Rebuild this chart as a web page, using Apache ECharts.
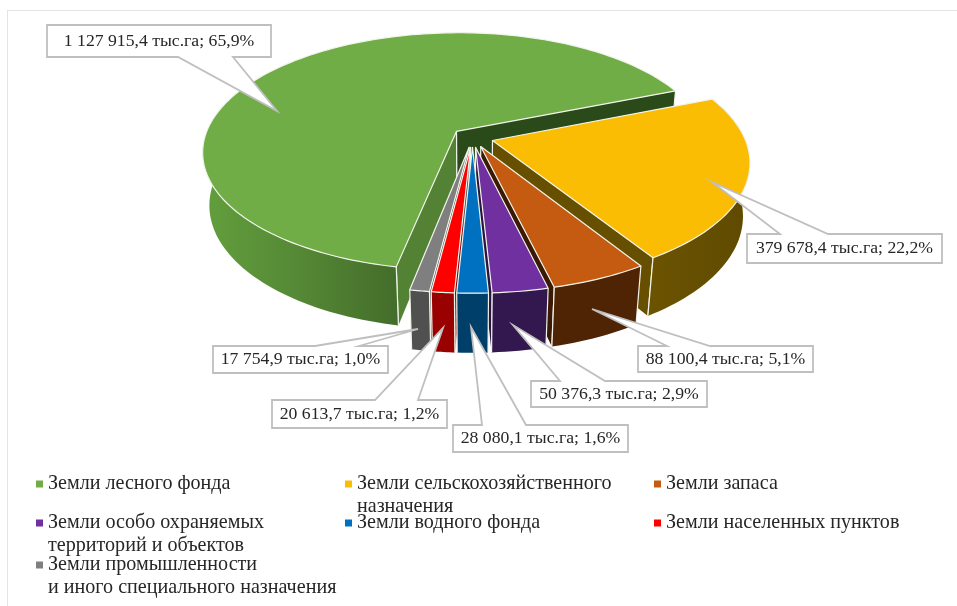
<!DOCTYPE html>
<html><head><meta charset="utf-8">
<style>html,body{margin:0;padding:0;background:#fff}#c{width:957px;height:606px}</style>
<script src="https://cdn.jsdelivr.net/npm/echarts@6/dist/echarts.min.js"></script>
</head><body><div id="c"></div>
<script>
const categories = ['Земли лесного фонда','Земли сельскохозяйственного\nназначения','Земли запаса','Земли особо охраняемых\nтерриторий и объектов','Земли водного фонда','Земли населенных пунктов','Земли промышленности\nи иного специального назначения'];
const areas = [1127915.4,379678.4,88100.4,50376.3,28080.1,20613.7,17754.9];
const dataLabels = ['1 127 915,4 тыс.га; 65,9%','379 678,4 тыс.га; 22,2%','88 100,4 тыс.га; 5,1%','50 376,3 тыс.га; 2,9%','28 080,1 тыс.га; 1,6%','20 613,7 тыс.га; 1,2%','17 754,9 тыс.га; 1,0%'];

// styles
const topColors  = ['#70AD47','#FBBC04','#C55A11','#7030A0','#0070C0','#FF0000','#7F7F7F'];
const rimColors  = ['#4F8232','#665000','#4F2405','#33174F','#003F6A','#990000','#505050'];
const wallColors = [['#548235','#2B4A1A'],['#665000','#665000'],['#3A1A04','#3A1A04'],['#2B1340','#2B1340'],['#003058','#003058'],['#7F0000','#7F0000'],['#444','#444']];
const drawOrder  = [0,1,2,4,5,3,3];

// projection of the exploded disc
const P = {cx:472.5, cy:137.5, rx:252, ry:117.3, p:0.17, q:0.025, h:54, explode:0.083, start:191, rimFrom:60, rimTo:290};
function proj(X,Y,Z){const w=1-P.p*Y+P.q*Z;return [P.cx+P.rx*X/w, P.cy+(P.ry*Y+P.h*Z)/w];}

const total = areas.reduce((a,b)=>a+b,0);
let acc = P.start;
const sliceAngles = areas.map(v=>{const a0=acc;acc+=v/total*360;return a0>=360?[a0-360,acc-360]:[a0,acc];});

function shoelace(pts){let s=0;pts.forEach((a,i)=>{const b=pts[(i+1)%pts.length];s+=a[0]*b[1]-b[0]*a[1];});return s;}

function sliceShapes(i){
  const [a0,a1]=sliceAngles[i], rad=Math.PI/180, mid=(a0+a1)/2*rad;
  const ox=P.explode*Math.sin(mid), oy=-P.explode*Math.cos(mid);
  const pt=(deg,Z)=>proj(ox+Math.sin(deg*rad),oy-Math.cos(deg*rad),Z);
  const apex=Z=>proj(ox,oy,Z);
  const n=Math.max(8,Math.ceil((a1-a0)/1.5));
  const topArc=[];
  for(let k=0;k<=n;k++) topArc.push(pt(a0+(a1-a0)*k/n,0));
  const base=drawOrder[i]*20;
  let z=0;
  const poly=(points,fill,stroke)=>({type:'polygon',shape:{points},z2:base+(z++),style:{fill,stroke:stroke||null,lineWidth:stroke?1.2:0,lineJoin:'round'}});
  const line=(a,b)=>({type:'polyline',shape:{points:[a,b]},z2:base+(z++),style:{stroke:'#F1F4EA',lineWidth:1.2,fill:null}});
  const out=[];
  // cut faces, only those turned towards the viewer
  const wallStart=[apex(0),pt(a0,0),pt(a0,1),apex(1)], wallEnd=[apex(0),pt(a1,0),pt(a1,1),apex(1)];
  if(shoelace(wallStart)<0){out.push(poly(wallStart,wallColors[i][0]),line(wallStart[0],wallStart[3]),line(wallStart[1],wallStart[2]));}
  if(shoelace(wallEnd)>0){out.push(poly(wallEnd,wallColors[i][1]),line(wallEnd[0],wallEnd[3]),line(wallEnd[1],wallEnd[2]));}
  // outer rim, front part only
  const r0=Math.max(a0,P.rimFrom), r1=Math.min(a1,P.rimTo);
  if(r1>r0){
    const rt=[],rb=[],m=Math.max(8,Math.ceil((r1-r0)/1.5));
    for(let k=0;k<=m;k++){const d=r0+(r1-r0)*k/m;rt.push(pt(d,0));rb.push(pt(d,1));}
    let rimFill=rimColors[i];
    if(i===0) rimFill={type:'linear',global:true,x:205,y:0,x2:400,y2:0,colorStops:[{offset:0,color:'#629E3D'},{offset:.45,color:'#568A36'},{offset:1,color:'#436C2A'}]};
    if(i===1) rimFill={type:'linear',global:true,x:650,y:0,x2:750,y2:0,colorStops:[{offset:0,color:'#6B5300'},{offset:1,color:'#5F4A00'}]};
    out.push(poly(rt.concat(rb.slice().reverse()),rimFill));
    if(r0===a0) out.push(line(rt[0],rb[0]));
    if(r1===a1) out.push(line(rt[m],rb[m]));
  }
  out.push(poly([apex(0)].concat(topArc),topColors[i],'#F1F4EA'));
  return out;
}

// callout boxes, annotation layout
const callouts = [
 {box:[47,25,271,57], side:'bottom', base:[178,233], tip:[277,111]},
 {box:[747,234,942,263], side:'top', base:[780,828], tip:[712,182]},
 {box:[638,346,813,372], side:'top', base:[667,710], tip:[592,309]},
 {box:[531,381,707,407], side:'top', base:[560,605], tip:[513,325]},
 {box:[453,425,628,452], side:'top', base:[482,526], tip:[471,327]},
 {box:[272,400,447,428], side:'top', base:[375,418], tip:[443,328]},
 {box:[213,346,388,373], side:'top', base:[315,359], tip:[418,329]}
];
function calloutShapes(i){
  const c=callouts[i],[x0,y0,x1,y1]=c.box;
  const pts=c.side==='top'
   ?[[x0,y0],[c.base[0],y0],c.tip,[c.base[1],y0],[x1,y0],[x1,y1],[x0,y1]]
   :[[x0,y0],[x1,y0],[x1,y1],[c.base[1],y1],c.tip,[c.base[0],y1],[x0,y1]];
  return [
   {type:'polygon',shape:{points:pts},z2:200+i*2,style:{fill:'#fff',stroke:'#BFBFBF',lineWidth:1.8}},
   {type:'text',z2:201+i*2,style:{x:(x0+x1)/2,y:(y0+y1)/2,text:dataLabels[i],align:'center',verticalAlign:'middle',fill:'#262626',font:'17.7px "Liberation Serif"'}}
  ];
}

// legend layout
const legendSpots=[[36,472.5],[345,449.5],[654,472.5],[36,488.5],[345,511.5],[654,511.5],[36,530.5]];
const legendFont={fontFamily:'Liberation Serif',fontSize:20.1,lineHeight:23,color:'#262626'};

const chart=echarts.init(document.getElementById('c'),null,{renderer:'canvas'});
chart.setOption({
 animation:false,
 backgroundColor:'#fff',
 graphic:[
  {type:'line',shape:{x1:8,y1:10.5,x2:957,y2:10.5},style:{stroke:'#E4E4E4',lineWidth:1}},
  {type:'line',shape:{x1:7.5,y1:10,x2:7.5,y2:606},style:{stroke:'#E4E4E4',lineWidth:1}}
 ],
 legend:categories.map((name,i)=>({
   data:[name],selectedMode:false,left:legendSpots[i][0],top:legendSpots[i][1],
   icon:'rect',itemWidth:7,itemHeight:7,itemGap:0,padding:0,textStyle:legendFont,
   formatter:n=>n.includes('\n')?' \n'+n:n
 })),
 series:[
  {type:'pie',radius:[0,0],center:[472,137],silent:true,label:{show:false},labelLine:{show:false},
   data:categories.map((name,i)=>({name,value:areas[i],itemStyle:{color:topColors[i]}}))},
  {type:'custom',coordinateSystem:'none',silent:true,data:areas.map((v,i)=>[i,v]),
   renderItem:(params,api)=>({type:'group',children:sliceShapes(api.value(0))})},
  {type:'custom',coordinateSystem:'none',silent:true,z:5,data:dataLabels.map((t,i)=>[i]),
   renderItem:(params,api)=>({type:'group',children:calloutShapes(api.value(0))})}
 ]
});
</script></body></html>
